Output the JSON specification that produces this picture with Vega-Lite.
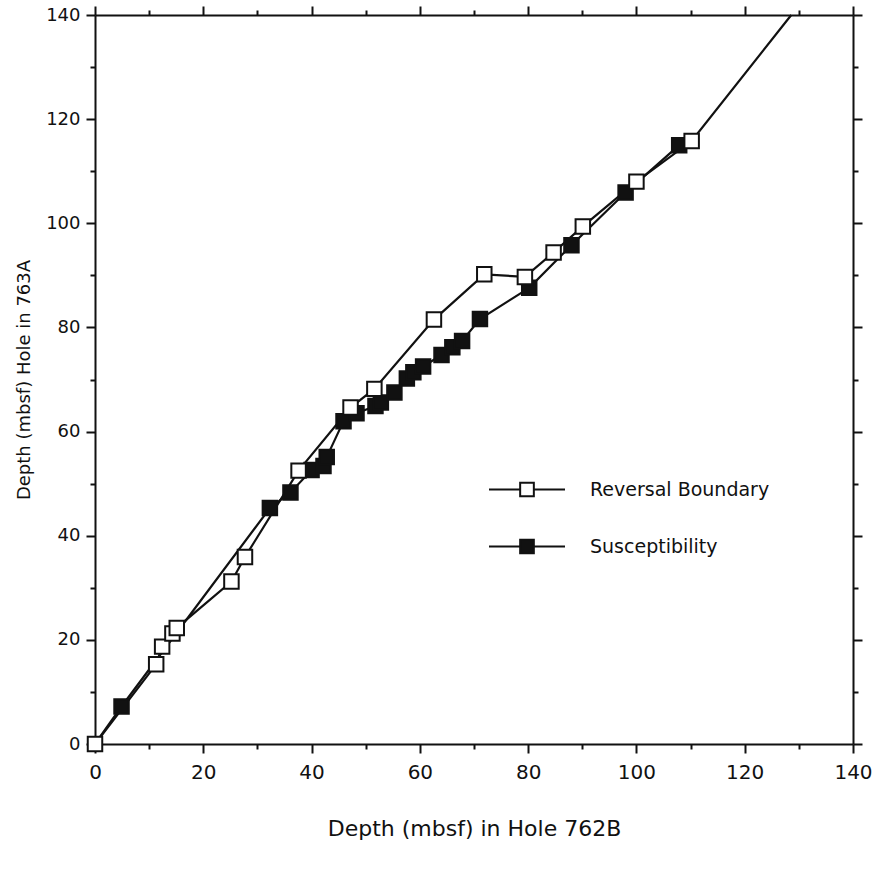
{
  "$schema": "https://vega.github.io/schema/vega-lite/v6.json",
  "autosize": {"type": "none"},
  "width": 758,
  "height": 729,
  "padding": {"left": 95, "top": 15, "right": 23, "bottom": 131},
  "background": "white",
  "config": {
    "view": {"stroke": null},
    "font": "DejaVu Sans",
    "axis": {
      "domainColor": "#111", "domainWidth": 2, "tickColor": "#111", "tickWidth": 2,
      "labelColor": "#111", "labelFont": "DejaVu Sans", "labelFontSize": 18,
      "titleColor": "#111", "titleFont": "DejaVu Sans", "titleFontWeight": "normal",
      "grid": false, "labelFlush": false, "labelOverlap": false, "labelBound": false
    }
  },
  "data": {"values": [
    {"s": "Susceptibility", "x": 0, "y": 0, "m": 0},
    {"s": "Susceptibility", "x": 4.9, "y": 7.2, "m": 1},
    {"s": "Susceptibility", "x": 32.3, "y": 45.3, "m": 1},
    {"s": "Susceptibility", "x": 36.1, "y": 48.3, "m": 1},
    {"s": "Susceptibility", "x": 40.0, "y": 52.6, "m": 1},
    {"s": "Susceptibility", "x": 42.2, "y": 53.4, "m": 1},
    {"s": "Susceptibility", "x": 42.8, "y": 55.1, "m": 1},
    {"s": "Susceptibility", "x": 45.9, "y": 62.0, "m": 1},
    {"s": "Susceptibility", "x": 48.3, "y": 63.5, "m": 1},
    {"s": "Susceptibility", "x": 51.8, "y": 64.9, "m": 1},
    {"s": "Susceptibility", "x": 52.8, "y": 65.6, "m": 1},
    {"s": "Susceptibility", "x": 55.3, "y": 67.5, "m": 1},
    {"s": "Susceptibility", "x": 57.6, "y": 70.2, "m": 1},
    {"s": "Susceptibility", "x": 58.8, "y": 71.4, "m": 1},
    {"s": "Susceptibility", "x": 60.6, "y": 72.5, "m": 1},
    {"s": "Susceptibility", "x": 64.0, "y": 74.7, "m": 1},
    {"s": "Susceptibility", "x": 66.0, "y": 76.2, "m": 1},
    {"s": "Susceptibility", "x": 67.8, "y": 77.4, "m": 1},
    {"s": "Susceptibility", "x": 71.1, "y": 81.6, "m": 1},
    {"s": "Susceptibility", "x": 80.2, "y": 87.6, "m": 1},
    {"s": "Susceptibility", "x": 88.0, "y": 95.8, "m": 1},
    {"s": "Susceptibility", "x": 98.0, "y": 105.9, "m": 1},
    {"s": "Susceptibility", "x": 107.9, "y": 115.0, "m": 1},
    {"s": "Reversal Boundary", "x": 0, "y": 0, "m": 1},
    {"s": "Reversal Boundary", "x": 11.3, "y": 15.3, "m": 1},
    {"s": "Reversal Boundary", "x": 12.4, "y": 18.7, "m": 1},
    {"s": "Reversal Boundary", "x": 14.3, "y": 21.2, "m": 1},
    {"s": "Reversal Boundary", "x": 15.1, "y": 22.3, "m": 1},
    {"s": "Reversal Boundary", "x": 25.2, "y": 31.2, "m": 1},
    {"s": "Reversal Boundary", "x": 27.7, "y": 35.9, "m": 1},
    {"s": "Reversal Boundary", "x": 37.6, "y": 52.5, "m": 1},
    {"s": "Reversal Boundary", "x": 47.2, "y": 64.6, "m": 1},
    {"s": "Reversal Boundary", "x": 51.6, "y": 68.2, "m": 1},
    {"s": "Reversal Boundary", "x": 62.6, "y": 81.5, "m": 1},
    {"s": "Reversal Boundary", "x": 71.9, "y": 90.2, "m": 1},
    {"s": "Reversal Boundary", "x": 79.4, "y": 89.7, "m": 1},
    {"s": "Reversal Boundary", "x": 84.7, "y": 94.4, "m": 1},
    {"s": "Reversal Boundary", "x": 90.1, "y": 99.4, "m": 1},
    {"s": "Reversal Boundary", "x": 100.0, "y": 108.0, "m": 1},
    {"s": "Reversal Boundary", "x": 110.2, "y": 115.8, "m": 1},
    {"s": "Reversal Boundary", "x": 128.6, "y": 140, "m": 0}
  ]},
  "resolve": {"axis": {"x": "independent", "y": "independent"}},
  "layer": [
    {
      "mark": {"type": "line", "color": "#111", "strokeWidth": 2.2},
      "encoding": {
        "x": {"field": "x", "type": "quantitative",
          "scale": {"domain": [0, 140], "nice": false},
          "axis": {"orient": "bottom", "values": [0,10,20,30,40,50,60,70,80,90,100,110,120,130,140],
            "labelExpr": "datum.value % 20 === 0 ? datum.label : ''",
            "tickSize": {"condition": {"test": "datum.value % 20 === 0", "value": 9}, "value": 5},
            "labelFontSize": 20, "labelPadding": 9, "title": "Depth (mbsf) in Hole 762B", "titleFontSize": 22, "titlePadding": 36}},
        "y": {"field": "y", "type": "quantitative",
          "scale": {"domain": [0, 140], "nice": false},
          "axis": {"orient": "left", "values": [0,10,20,30,40,50,60,70,80,90,100,110,120,130,140],
            "labelExpr": "datum.value % 20 === 0 ? datum.label : ''",
            "tickSize": {"condition": {"test": "datum.value % 20 === 0", "value": 9}, "value": 5},
            "labelFontSize": 18, "labelPadding": 6, "title": "Depth (mbsf) Hole in 763A", "titleFontSize": 18, "titlePadding": 12}},
        "detail": {"field": "s"}
      }
    },
    {
      "transform": [{"filter": "datum.m == 1"}],
      "mark": {"type": "point", "shape": "square", "filled": true, "size": 210, "stroke": "#111", "strokeWidth": 2, "opacity": 1},
      "encoding": {
        "x": {"field": "x", "type": "quantitative",
          "axis": {"orient": "top", "values": [0,10,20,30,40,50,60,70,80,90,100,110,120,130,140],
            "labels": false, "title": null,
            "tickSize": {"condition": {"test": "datum.value % 20 === 0", "value": 9}, "value": 5}}},
        "y": {"field": "y", "type": "quantitative",
          "axis": {"orient": "right", "values": [0,10,20,30,40,50,60,70,80,90,100,110,120,130,140],
            "labels": false, "title": null,
            "tickSize": {"condition": {"test": "datum.value % 20 === 0", "value": 9}, "value": 5}}},
        "fill": {"field": "s", "type": "nominal",
          "scale": {"domain": ["Reversal Boundary", "Susceptibility"], "range": ["white", "#111"]},
          "legend": {"orient": "none", "legendX": 393, "legendY": 446, "title": null,
            "symbolType": "M-1,0H-0.18M0.18,0H1M-0.18,-0.18H0.18V0.18H-0.18Z",
            "symbolSize": 5776, "symbolStrokeColor": "#111", "symbolStrokeWidth": 2,
            "labelFont": "DejaVu Sans", "labelFontSize": 19, "labelColor": "#111", "labelLimit": 0,
            "labelOffset": 24, "clipHeight": 57, "rowPadding": 0, "padding": 0}}
      }
    }
  ]
}
